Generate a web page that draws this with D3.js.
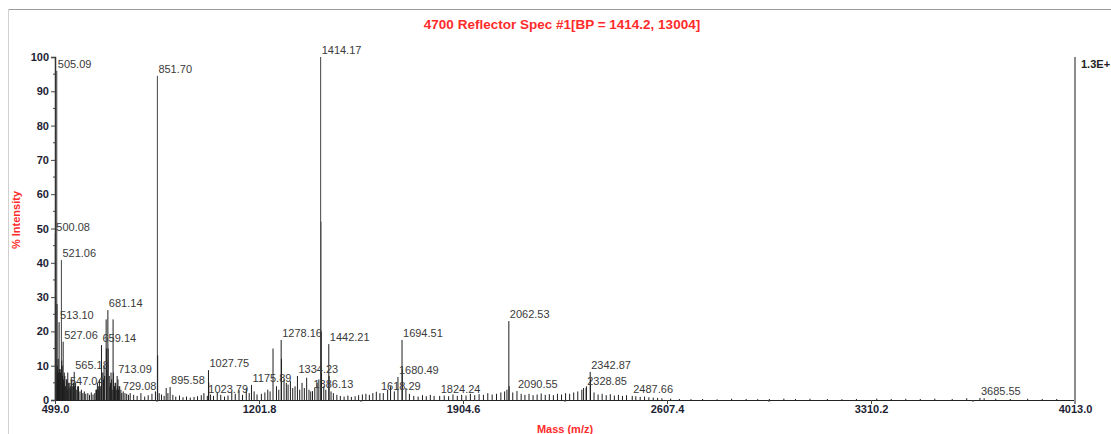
<!DOCTYPE html>
<html>
<head>
<meta charset="utf-8">
<script src="https://cdn.jsdelivr.net/npm/d3@7"></script>
<style>
  body { margin: 0; background: #fff; }
  svg { display: block; font-family: "Liberation Sans", Arial, sans-serif; }
</style>
</head>
<body>
<div id="chart"></div>
<script>
const W = 1111, H = 434;
const left_margin = 55;
const right_edge = 1075;
const top_y = 57;
const base_y = 400;

// labelled peaks (m/z, % intensity)
const peakMz = [500.08, 505.09, 513.10, 521.06, 527.06, 547.04, 565.18, 659.14, 681.14, 713.09,
    729.08, 851.70, 895.58, 1023.79, 1027.75, 1175.89, 1278.16, 1334.23, 1386.13, 1414.17,
    1442.21, 1618.29, 1680.49, 1694.51, 1824.24, 2062.53, 2090.55, 2328.85, 2342.87, 2487.66, 3685.55];
const peakInt = [48.5, 96, 22.7, 40.8, 17, 3.5, 8.2, 16, 26.2, 7,
    2, 94.5, 3.8, 1.2, 8.7, 4.4, 17.5, 7, 2.6, 100,
    16.3, 2, 6.7, 17.5, 1.2, 23, 2.6, 3.5, 8.2, 1.2, 0.6];

// unlabelled peaks / isotopes
const minorMz = [501.08, 502.08, 506.09, 507.09, 514.10, 522.06, 528.06, 660.14, 675.2, 676.2,
    682.14, 699.1, 700.1, 714.1, 852.70, 1028.75, 1250.1, 1279.16, 1415.17, 1416.17,
    1417.17, 1443.21, 1695.51, 2063.53, 2329.85, 2343.87];
const minorInt = [30, 12, 28, 10, 9, 11.5, 6, 8, 23.5, 15,
    15, 23.5, 8, 4, 13, 5, 15, 12, 52, 20,
    8, 7, 9, 4, 4, 6];

// baseline chemical noise
const noiseMz = [503, 504, 508, 509, 510, 511, 516, 517, 518, 519, 524, 525, 530, 531, 533, 534, 536, 538, 540, 541,
    543, 545, 550, 552, 553, 555, 557, 560, 563, 567, 570, 574, 577, 580, 585, 590,
    595, 600, 605, 612, 618, 624, 630, 636, 640, 642, 645, 648, 650, 652, 655, 664, 666, 668, 670, 678, 686, 688, 690, 692, 694, 696, 704, 706, 708, 710, 716, 718, 720, 722,
    726, 734, 740, 746, 752, 758, 770, 782, 795, 808, 820, 833, 845, 858, 866, 875, 882, 888, 905, 915,
    928, 940, 952, 965, 978, 990, 1003, 1012, 1035, 1045, 1058, 1070, 1083, 1095, 1108, 1120, 1133, 1145, 1158, 1168,
    1185, 1195, 1210, 1222, 1232, 1240, 1262, 1270, 1288, 1296, 1302, 1310, 1318, 1326, 1342, 1350, 1358, 1366, 1374, 1380,
    1394, 1402, 1408, 1425, 1432, 1450, 1458, 1470, 1482, 1495, 1508, 1520, 1533, 1545, 1558, 1570, 1582, 1594, 1606, 1630,
    1645, 1655, 1668, 1708, 1720, 1735, 1750, 1765, 1778, 1792, 1805, 1840, 1855, 1870, 1885, 1900, 1915, 1930, 1945, 1960,
    1975, 1990, 2005, 2020, 2035, 2048, 2056, 2076, 2105, 2118, 2132, 2146, 2160, 2174, 2188, 2202, 2216, 2230, 2244, 2258,
    2272, 2286, 2300, 2314, 2320, 2356, 2370, 2384, 2398, 2412, 2426, 2440, 2454, 2468, 2500, 2515, 2530, 2545, 2560, 2575,
    2590, 2620, 2650, 2690, 2730, 2780, 2830, 2880, 2920, 2960, 3010, 3050, 3100, 3160, 3210, 3260, 3330, 3380, 3430, 3480,
    3530, 3590, 3640, 3700, 3740, 3790, 3850, 3900, 3950];
const noiseInt = [9, 6, 7, 5, 12, 8, 6, 9, 8, 5, 10, 7, 5, 8, 7, 4, 4, 6, 6, 3,
    8, 5, 5, 4, 3, 6, 6, 4, 5, 4, 5, 3, 4, 4, 2.5, 3,
    2, 2.5, 1.8, 2, 1.5, 2.2, 1.6, 2, 3, 3, 5, 4, 3, 6, 4, 8, 6, 10, 7, 9, 7, 4, 5, 8, 6, 3, 4, 5, 5, 3, 6, 3, 4, 4,
    3, 2.5, 2, 1.8, 1.5, 2, 1.5, 1.2, 2, 1, 1.4, 1.8, 2.5, 2, 1.6, 1.2, 3.5, 2, 1.5, 1,
    1.3, 0.8, 1, 0.7, 0.9, 1.1, 1.4, 2, 1.6, 1.2, 2.2, 1.5, 1, 1.3, 2.4, 1.8, 2.8, 1.5, 3.5, 2,
    2.5, 1.6, 1.8, 2.2, 3, 2.5, 4, 3, 6, 5, 4.5, 5.5, 3.5, 4, 3, 5, 3.5, 6.5, 3, 2.5,
    3.5, 5, 6, 4, 3, 2.5, 2, 1.5, 1.2, 1, 1.3, 0.9, 1.1, 1.4, 1.6, 1.8, 1.5, 2, 2.4, 2,
    3, 4, 2.5, 3.5, 1.8, 1.2, 1, 1.4, 1.1, 1.5, 1.2, 1.3, 1.1, 1.6, 1.2, 1.5, 1.3, 1.8, 1.4, 1.7,
    1.5, 2, 1.6, 1.8, 2.2, 2.5, 3, 2.2, 1.8, 1.5, 1.8, 1.4, 1.6, 1.9, 1.5, 1.7, 1.4, 1.8, 1.6, 2,
    1.8, 2.2, 2.5, 3, 3.5, 2.2, 1.6, 1.8, 1.4, 1.7, 1.3, 1.5, 1.2, 1.4, 1.1, 0.9, 1, 0.8, 0.7, 0.6,
    0.5, 0.4, 0.3, 0.25, 0.3, 0.2, 0.35, 0.3, 0.25, 0.3, 0.4, 0.3, 0.35, 0.3, 0.25, 0.3, 0.4, 0.3, 0.35, 0.3,
    0.4, 0.3, 0.5, 0.5, 0.4, 0.3, 0.35, 0.3, 0.3];

const yTicks = [0, 10, 20, 30, 40, 50, 60, 70, 80, 90, 100];
const xTicks = [499.0, 1201.8, 1904.6, 2607.4, 3310.2, 4013.0];

const titleText = "4700 Reflector Spec #1[BP = 1414.2, 13004]";
const xLabel = "Mass (m/z)";
const yLabel = "% Intensity";
const scaleLabel = "1.3E+";

const red = "#ff2b2b";

var svg = d3.select("#chart").append("svg")
    .attr("width", W)
    .attr("height", H);

// outer frame
svg.append("line").attr("x1", 8).attr("x2", W).attr("y1", 9.5).attr("y2", 9.5)
    .attr("stroke", "#9a9a9a").attr("stroke-width", 1);
svg.append("line").attr("x1", 8.5).attr("x2", 8.5).attr("y1", 9).attr("y2", H)
    .attr("stroke", "#d0d0d0").attr("stroke-width", 1);

var x = d3.scaleLinear().domain([xTicks[0], xTicks[xTicks.length - 1]]).range([left_margin, right_edge]);
var y = d3.scaleLinear().domain([0, 100]).range([base_y, top_y]);

// all sticks together
var sticks = [];
noiseMz.forEach((m, i) => sticks.push({mz: m, v: noiseInt[i]}));
minorMz.forEach((m, i) => sticks.push({mz: m, v: minorInt[i]}));
peakMz.forEach((m, i) => sticks.push({mz: m, v: peakInt[i]}));
sticks.sort((a, b) => a.mz - b.mz);

svg.append("g").selectAll("line")
    .data(sticks)
    .enter()
    .append("line")
    .attr("x1", d => x(d.mz))
    .attr("x2", d => x(d.mz))
    .attr("y1", y(0))
    .attr("y2", d => y(d.v))
    .attr("stroke", d => d.v > 40 ? "#444" : "#1e1e1e")
    .attr("stroke-width", 1);

// peak labels
svg.append("g").selectAll("text")
    .data(peakMz)
    .enter()
    .append("text")
    .attr("x", d => x(d) + 1)
    .attr("y", (d, i) => y(peakInt[i]) - 3)
    .attr("font-size", 11)
    .attr("fill", "#3a3a3a")
    .text(d => d.toFixed(2));

// y axis
var yAxis = svg.append("g")
    .attr("transform", `translate(${left_margin},0)`)
    .call(d3.axisLeft(y).tickValues(yTicks).tickSize(4).tickPadding(2).tickFormat(d3.format("d")));
yAxis.selectAll("text").attr("font-size", 11).attr("font-weight", "bold").attr("fill", "#1d1d33")
    .attr("font-family", "Liberation Sans, Arial, sans-serif");
yAxis.select(".domain").attr("stroke", "#333").attr("stroke-width", 1.5);
yAxis.selectAll(".tick line").attr("stroke", "#444");
var yMinor = d3.range(0, yTicks.length - 1).map(i => (yTicks[i] + yTicks[i + 1]) / 2);
svg.append("g").selectAll("line").data(yMinor).enter().append("line")
    .attr("x1", left_margin - 2).attr("x2", left_margin)
    .attr("y1", d => y(d)).attr("y2", d => y(d))
    .attr("stroke", "#444");

// x axis
var xAxis = svg.append("g")
    .attr("transform", `translate(0,${base_y})`)
    .call(d3.axisBottom(x).tickValues(xTicks).tickSize(4).tickPadding(1).tickFormat(d3.format(".1f")));
xAxis.selectAll("text").attr("font-size", 11).attr("font-weight", "bold").attr("fill", "#1d1d33")
    .attr("font-family", "Liberation Sans, Arial, sans-serif");
xAxis.select(".domain").attr("stroke", "#222");
xAxis.selectAll(".tick line").attr("stroke", "#444");
var xMinor = d3.range(0, xTicks.length - 1).map(i => (xTicks[i] + xTicks[i + 1]) / 2);
svg.append("g").selectAll("line").data(xMinor).enter().append("line")
    .attr("x1", d => x(d)).attr("x2", d => x(d))
    .attr("y1", base_y).attr("y2", base_y + 2)
    .attr("stroke", "#444");

// right scale line
svg.append("line")
    .attr("x1", right_edge).attr("x2", right_edge)
    .attr("y1", top_y).attr("y2", base_y + 4)
    .attr("stroke", "#8c8c8c").attr("stroke-width", 2);
svg.append("text")
    .attr("x", right_edge + 6).attr("y", top_y + 11)
    .attr("font-size", 11).attr("font-weight", "bold").attr("fill", "#222")
    .text(scaleLabel);

// title and axis titles
svg.append("text")
    .attr("x", 562).attr("y", 29)
    .attr("text-anchor", "middle")
    .attr("font-size", 13.5).attr("font-weight", "bold").attr("fill", red)
    .text(titleText);
svg.append("text")
    .attr("x", 565).attr("y", 433)
    .attr("text-anchor", "middle")
    .attr("font-size", 11).attr("font-weight", "bold").attr("fill", red)
    .text(xLabel);
svg.append("text")
    .attr("transform", "translate(20,220) rotate(-90)")
    .attr("text-anchor", "middle")
    .attr("font-size", 11).attr("font-weight", "bold").attr("fill", red)
    .text(yLabel);
</script>
</body>
</html>
